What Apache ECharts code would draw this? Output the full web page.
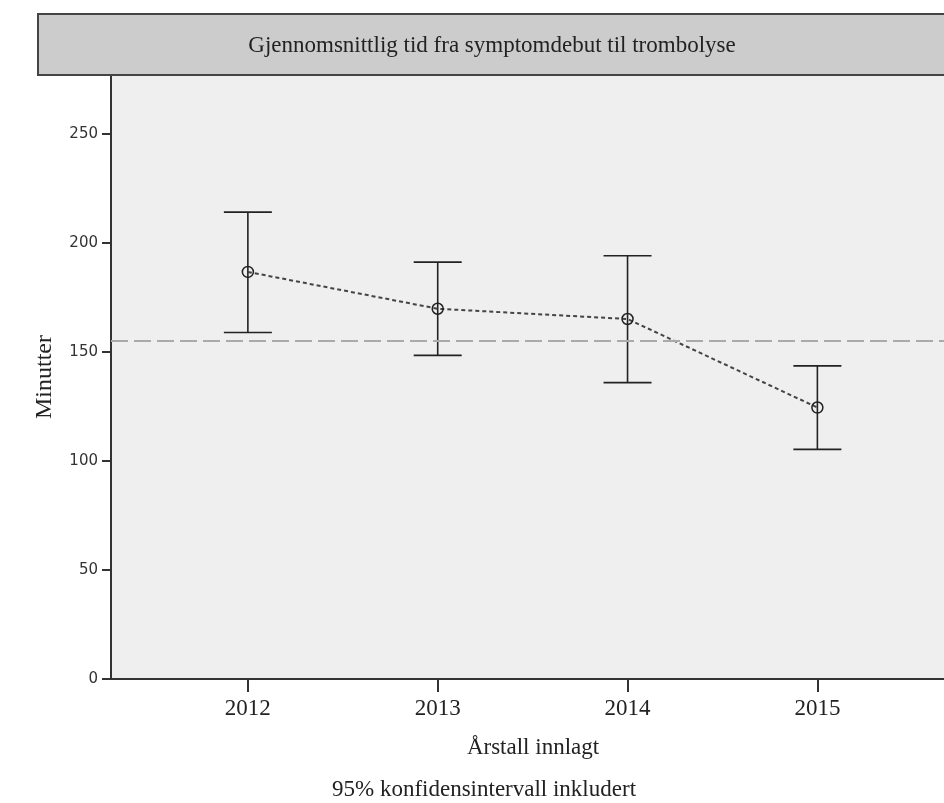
<!DOCTYPE html>
<html>
<head>
<meta charset="utf-8">
<script src="https://cdn.jsdelivr.net/npm/echarts@6/dist/echarts.min.js"></script>
<style>html,body{margin:0;padding:0;background:#fff}#c{width:944px;height:803px}</style>
</head>
<body>
<div id="c"></div>
<script>
const years = [2012, 2013, 2014, 2015];
const means = [186.7, 169.8, 165.1, 124.5];
const upper = [214.1, 191.2, 194.1, 143.6];
const lower = [158.9, 148.4, 135.9, 105.3];
const referenceValue = 155.3;
const yTicks = [0, 50, 100, 150, 200, 250];
const titleText = 'Gjennomsnittlig tid fra symptomdebut til trombolyse';
const xName = 'Årstall innlagt';
const yName = 'Minutter';
const footnote = '95% konfidensintervall inkludert';

const SERIF = 'Liberation Serif';
const SANS = 'DejaVu Sans';
const chart = echarts.init(document.getElementById('c'), null, {renderer: 'canvas'});

const lineData = years.map((y, i) => [y, means[i]]);
const errData = years.map((y, i) => [y, lower[i], upper[i]]);

chart.setOption({
  animation: false,
  backgroundColor: '#ffffff',
  grid: {
    left: 111, right: 0, top: 75, bottom: 124,
    show: true, backgroundColor: '#efefef', borderWidth: 0
  },
  graphic: [
    {
      type: 'rect', shape: {x: 38, y: 14, width: 940, height: 61},
      style: {fill: '#cccccc', stroke: '#444', lineWidth: 2}, z: 10
    },
    {
      type: 'text', x: 492, y: 46, z: 11,
      style: {text: titleText, fill: '#222', font: '23px "' + SERIF + '"', align: 'center', verticalAlign: 'middle'}
    },
    {
      type: 'text', x: 484, y: 790, z: 11,
      style: {text: footnote, fill: '#222', font: '23px "' + SERIF + '"', align: 'center', verticalAlign: 'middle'}
    }
  ],
  xAxis: {
    type: 'value', min: 2011.279, max: 2015.667,
    name: xName, nameLocation: 'middle', nameGap: 57,
    nameTextStyle: {fontFamily: SERIF, fontSize: 23, color: '#222', padding: [0, 0, 0, 11]},
    splitLine: {show: false},
    axisLine: {show: true, onZero: false, lineStyle: {color: '#333', width: 2}},
    axisTick: {show: true, length: 13, customValues: years, lineStyle: {color: '#333', width: 2}},
    axisLabel: {customValues: years, margin: 18, fontFamily: SERIF, fontSize: 23, color: '#222', formatter: v => String(v)}
  },
  yAxis: {
    type: 'value', min: 0, max: 277,
    name: yName, nameLocation: 'middle', nameGap: 54, nameRotate: 90,
    nameTextStyle: {fontFamily: SERIF, fontSize: 24, color: '#222'},
    splitLine: {show: false},
    axisLine: {show: true, lineStyle: {color: '#333', width: 2}},
    axisTick: {show: true, length: 9, customValues: yTicks, lineStyle: {color: '#333', width: 2}},
    axisLabel: {customValues: yTicks, margin: 13, fontFamily: SANS, fontSize: 15, color: '#333'}
  },
  series: [
    {
      type: 'custom',
      data: errData,
      z: 3,
      renderItem: function (params, api) {
        const x = api.value(0);
        const lo = api.coord([x, api.value(1)]);
        const hi = api.coord([x, api.value(2)]);
        const hw = 24;
        const st = {stroke: '#222', lineWidth: 1.6};
        return {
          type: 'group',
          children: [
            {type: 'line', shape: {x1: lo[0], y1: lo[1], x2: hi[0], y2: hi[1]}, style: st},
            {type: 'line', shape: {x1: hi[0] - hw, y1: hi[1], x2: hi[0] + hw, y2: hi[1]}, style: st},
            {type: 'line', shape: {x1: lo[0] - hw, y1: lo[1], x2: lo[0] + hw, y2: lo[1]}, style: st}
          ]
        };
      }
    },
    {
      type: 'line',
      data: lineData,
      z: 4,
      symbol: 'circle', symbolSize: 11,
      itemStyle: {color: 'rgba(0,0,0,0)', borderColor: '#222', borderWidth: 1.5},
      lineStyle: {color: '#444', width: 2, type: [4, 3]},
      markLine: {
        silent: true, symbol: ['none', 'none'], label: {show: false},
        lineStyle: {color: '#aaaaaa', width: 2, type: [17, 6]},
        data: [{yAxis: referenceValue}]
      }
    }
  ]
});
</script>
</body>
</html>
